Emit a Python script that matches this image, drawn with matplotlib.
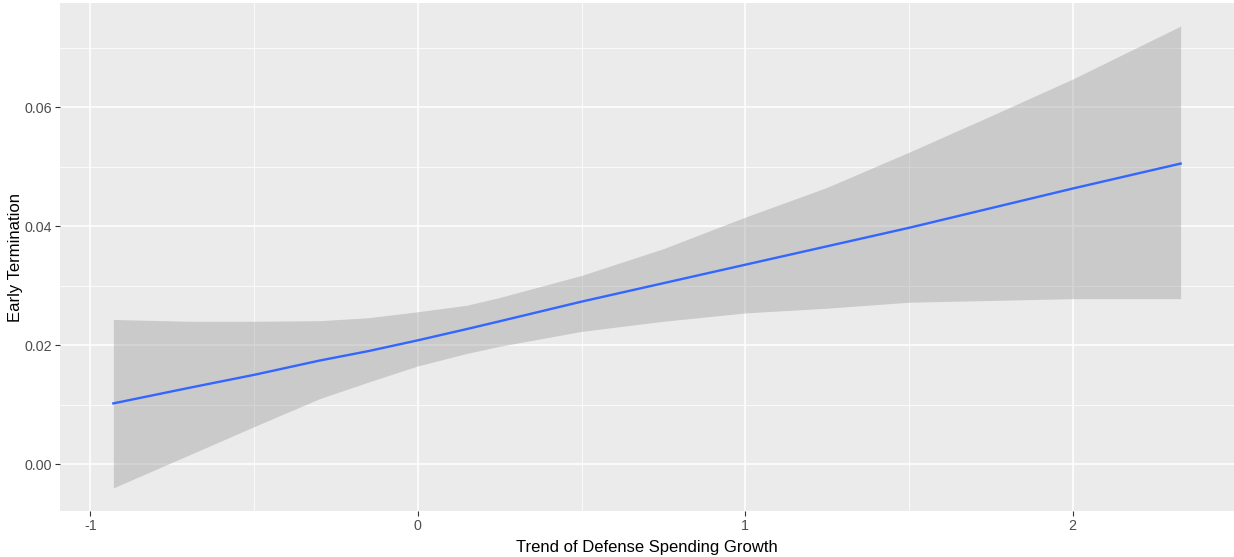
import numpy as np
import matplotlib
matplotlib.use("Agg")
import matplotlib.pyplot as plt

# Predicted probability of early termination with 95% band
trend = [-0.93, -0.7, -0.5, -0.3, -0.15, 0.0, 0.15, 0.25, 0.5, 0.75, 1.0, 1.25, 1.5, 1.75, 2.0, 2.33]
fit = [0.0102, 0.0128, 0.0150, 0.0174, 0.0190, 0.0208, 0.0227, 0.0240, 0.0273, 0.0304, 0.0335, 0.0366, 0.0397, 0.0430, 0.0463, 0.0505]
upper = [0.0243, 0.0240, 0.0240, 0.0241, 0.0246, 0.0256, 0.0267, 0.0280, 0.0317, 0.0362, 0.0415, 0.0465, 0.0524, 0.0585, 0.0647, 0.0736]
lower = [-0.0040, 0.0015, 0.0063, 0.0110, 0.0138, 0.0165, 0.0186, 0.0198, 0.0223, 0.0240, 0.0254, 0.0262, 0.0272, 0.0275, 0.0278, 0.0278]

x_ticks = [-1, 0, 1, 2]
y_ticks = [0.00, 0.02, 0.04, 0.06]
y_tick_labels = ["0.00", "0.02", "0.04", "0.06"]

plt.rcParams['font.family'] = ['Liberation Sans', 'DejaVu Sans']

fig = plt.figure(figsize=(12.34, 5.57), dpi=100)
W, H = 1234, 557
left, right, top, bottom = 60, 1234, 3, 511
ax = fig.add_axes([left / W, 1 - bottom / H, (right - left) / W, (bottom - top) / H])

ax.set_facecolor('#EBEBEB')
for s in ax.spines.values():
    s.set_visible(False)

# ggplot-style expanded limits
xr = max(trend) - min(trend)
ax.set_xlim(min(trend) - 0.05 * xr, max(trend) + 0.05 * xr)
yr = max(upper) - min(lower)
ax.set_ylim(min(lower) - 0.05 * yr, max(upper) + 0.05 * yr)

ax.set_xticks(x_ticks)
ax.set_xticklabels([str(v) for v in x_ticks])
ax.set_yticks(y_ticks)
ax.set_yticklabels(y_tick_labels)
ax.set_xticks([-0.5, 0.5, 1.5], minor=True)
ax.set_yticks([0.01, 0.03, 0.05, 0.07], minor=True)

ax.grid(which='major', color='white', linewidth=1.1)
ax.grid(which='minor', color='white', linewidth=0.55)
ax.set_axisbelow(True)

ax.tick_params(which='major', length=3.5, width=0.8, color='#333333',
               labelcolor='#4D4D4D', labelsize=10.3, pad=2.5)
ax.tick_params(which='minor', length=0)

ax.fill_between(trend, lower, upper, color='#999999', alpha=0.4, linewidth=0, zorder=2)
ax.plot(trend, fit, color='#3366FF', linewidth=1.7, zorder=3)

ax.set_xlabel('Trend of Defense Spending Growth', fontsize=12, color='black', labelpad=4.5)
ax.set_ylabel('Early Termination', fontsize=12, color='black', labelpad=1)

fig.savefig('out.png', dpi=100, facecolor='white')
